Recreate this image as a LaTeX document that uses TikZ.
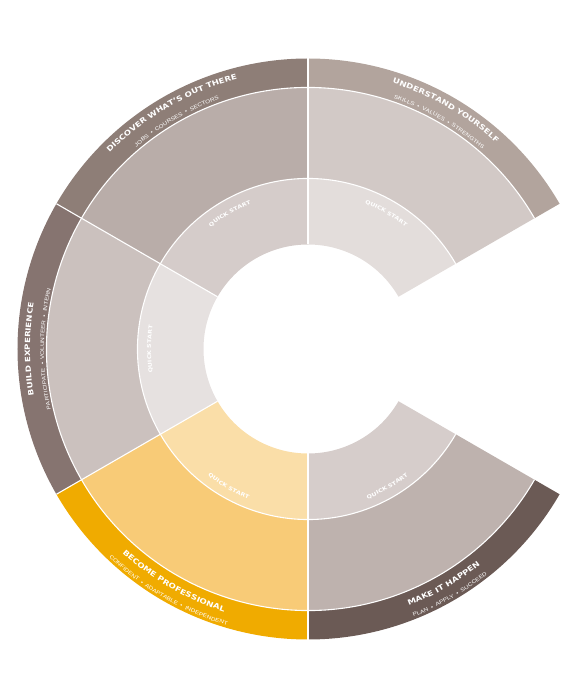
\documentclass[tikz,border=0pt]{standalone}
\usepackage{fontspec}
\usetikzlibrary{decorations.text}
\newfontfamily\titlefont[FakeStretch=1.2]{DejaVu Sans Bold}
\newfontfamily\subfont[FakeStretch=1.2]{Liberation Sans}
\definecolor{bandTL}{HTML}{8E7E77}
\definecolor{bandTR}{HTML}{B2A49D}
\definecolor{bandL}{HTML}{867470}
\definecolor{bandBL}{HTML}{F0AB00}
\definecolor{bandBR}{HTML}{6B5A55}
\definecolor{midTL}{HTML}{B9ADA9}
\definecolor{midTR}{HTML}{D2C9C6}
\definecolor{midL}{HTML}{CBC1BE}
\definecolor{midBL}{HTML}{F8CB77}
\definecolor{midBR}{HTML}{BEB2AE}
\definecolor{inTL}{HTML}{D5CCCA}
\definecolor{inTR}{HTML}{E3DDDB}
\definecolor{inL}{HTML}{E6E1E0}
\definecolor{inBL}{HTML}{FADEA8}
\definecolor{inBR}{HTML}{D6CDCB}
\def\ringpart[#1](#2:#3:#4:#5){\fill[#1] (#2:#4pt) arc[start angle=#2, end angle=#3, radius=#4pt] -- (#3:#5pt) arc[start angle=#3, end angle=#2, radius=#5pt] -- cycle;}
\def\arclabel[#1](#2:#3:#4)#5{\path[decorate, decoration={text along path, text align=center, text color=white, text={|#1|#5}}] (#2:#4pt) arc[start angle=#2, end angle=#3, radius=#4pt];}
\def\ttl{\titlefont\fontsize{7.2}{8}\selectfont}
\def\sub{\subfont\fontsize{5.3}{6.5}\selectfont}
\def\qs{\titlefont\fontsize{5.2}{6}\selectfont}

\begin{document}
\begin{tikzpicture}
		%%%%% START %%%%%
		\useasboundingbox (-308pt, -351pt) rectangle (267pt, 349pt);
		
		% quick start ring
		\ringpart[inTR](30:90:104.5:170.5)
		\ringpart[inTL](90:150:104.5:170.5)
		\ringpart[inL](150:210:104.5:170.5)
		\ringpart[inBL](210:270:104.5:170.5)
		\ringpart[inBR](270:330:104.5:170.5)
		
		% middle ring
		\ringpart[midTR](30:90:170.5:261.5)
		\ringpart[midTL](90:150:170.5:261.5)
		\ringpart[midL](150:210:170.5:261.5)
		\ringpart[midBL](210:270:170.5:261.5)
		\ringpart[midBR](270:330:170.5:261.5)
		
		% outer band
		\ringpart[bandTR](30:90:261.5:290.5)
		\ringpart[bandTL](90:150:261.5:290.5)
		\ringpart[bandL](150:210:261.5:290.5)
		\ringpart[bandBL](210:270:261.5:290.5)
		\ringpart[bandBR](270:330:261.5:290.5)
		
		% white separators
		\draw[white, line width=1.1pt] (30:170.5pt) arc[start angle=30, end angle=330, radius=170.5pt];
		\draw[white, line width=1.1pt] (30:261.5pt) arc[start angle=30, end angle=330, radius=261.5pt];
		\foreach \a in {90, 150, 210, 270}
			\draw[white, line width=1.1pt] (\a:104.5pt) -- (\a:290.5pt);
		
		% band titles
		\arclabel[\ttl](150:90:279){DISCOVER WHAT’S OUT THERE}
		\arclabel[\sub](150:90:265){JOBS^^^^2002•^^^^2002COURSES^^^^2002•^^^^2002SECTORS}
		\arclabel[\ttl](90:30:279){UNDERSTAND YOURSELF}
		\arclabel[\sub](90:30:265){SKILLS^^^^2002•^^^^2002VALUES^^^^2002•^^^^2002STRENGTHS}
		\arclabel[\ttl](210:150:278){BUILD EXPERIENCE}
		\arclabel[\sub](210:150:264){PARTICIPATE^^^^2002•^^^^2002VOLUNTEER^^^^2002•^^^^2002INTERN}
		\arclabel[\ttl](210:270:276){BECOME PROFESSIONAL}
		\arclabel[\sub](210:270:288){CONFIDENT^^^^2002•^^^^2002ADAPTABLE^^^^2002•^^^^2002INDEPENDENT}
		\arclabel[\ttl](270:330:276){MAKE IT HAPPEN}
		\arclabel[\sub](270:330:288){PLAN^^^^2002•^^^^2002APPLY^^^^2002•^^^^2002SUCCEED}
		
		% quick start labels
		\arclabel[\qs](150:90:156){QUICK START}
		\arclabel[\qs](90:30:156){QUICK START}
		\arclabel[\qs](210:150:157){QUICK START}
		\arclabel[\qs](210:270:161.5){QUICK START}
		\arclabel[\qs](270:330:161.5){QUICK START}
		
		%%%%% END %%%%%
	\end{tikzpicture}
\end{document}
